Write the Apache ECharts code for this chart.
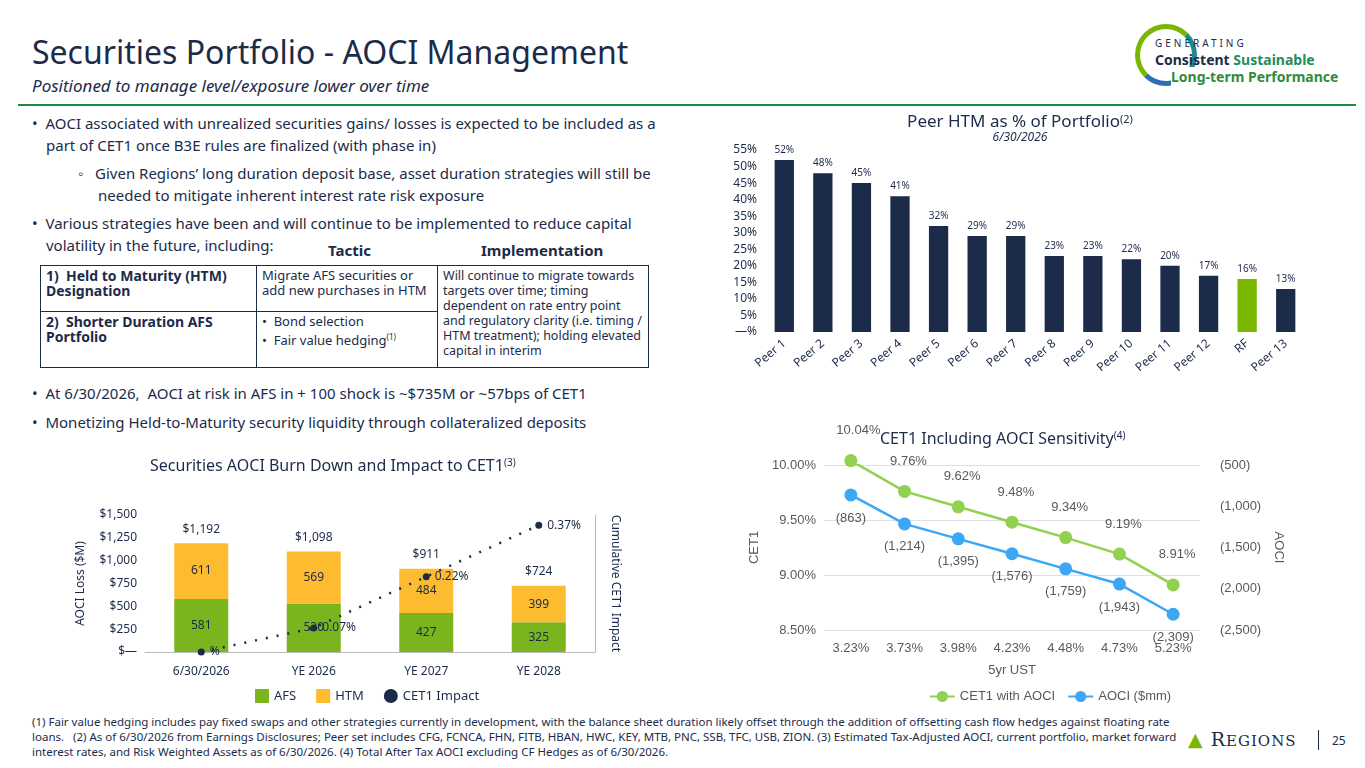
<!DOCTYPE html>
<html>
<head>
<meta charset="utf-8" />
<title>Securities Portfolio - AOCI Management</title>
<script src="https://cdn.jsdelivr.net/npm/echarts@6/dist/echarts.min.js"></script>
<style>
    body { margin: 0; width: 1365px; height: 768px; position: relative; background: #fff; font-family: "Noto Sans", sans-serif; color: #1c2b4a; overflow: hidden; }
    .abs { position: absolute; }
    #title { left: 32px; top: 30px; font-size: 32px; color: #1c2b4a; }
    #sub { left: 32px; top: 74px; font-size: 17px; font-style: italic; color: #1c2b4a; }
    #rule { left: 18px; top: 104px; width: 1338px; height: 2px; background: #1f8c3c; }
    .b { font-size: 15px; line-height: 22px; }
    table { border-collapse: collapse; font-size: 13px; line-height: 15px; }
    td { border: 1px solid #1c2b4a; padding: 2px 5px; vertical-align: top; }
    #foot { left: 32px; top: 714px; width: 1145px; font-size: 11.5px; line-height: 15px; }
</style>
</head>
<body>
<div id="title" class="abs">Securities Portfolio - AOCI Management</div>
<div id="sub" class="abs">Positioned to manage level/exposure lower over time</div>
<div class="abs" style="left:1135px;top:20px;width:220px;height:75px;">
    <div style="position:absolute;left:0;top:4px;width:62px;height:62px;border-radius:50%;border:5px solid #7ab800;border-right-color:#1f8c8c;border-bottom-color:#2f6db5;box-sizing:border-box;"></div>
    <div style="position:absolute;left:20px;top:16px;font-size:10px;letter-spacing:3px;color:#1c2b4a;">GENERATING</div>
    <div style="position:absolute;left:20px;top:30px;font-size:14px;font-weight:bold;color:#1c2b4a;">Consistent <span style="color:#1f8c5c">Sustainable</span></div>
    <div style="position:absolute;left:36px;top:47px;font-size:14px;font-weight:bold;color:#2f8c3c;background:#fff;">Long-term Performance</div>
</div>
<div id="rule" class="abs"></div>

<div class="abs b" style="left:18px;top:112px;width:645px;">
    <div style="padding-left:28px;text-indent:-14px;">•&nbsp; AOCI associated with unrealized securities gains/ losses is expected to be included as a part of CET1 once B3E rules are finalized (with phase in)</div>
    <div style="padding-left:80px;text-indent:-20px;margin-top:6px;">◦&nbsp;&nbsp; Given Regions’ long duration deposit base, asset duration strategies will still be needed to mitigate inherent interest rate risk exposure</div>
    <div style="padding-left:28px;text-indent:-14px;margin-top:6px;">•&nbsp; Various strategies have been and will continue to be implemented to reduce capital volatility in the future, including:</div>
</div>
<div class="abs" style="left:328px;top:240px;font-size:15px;font-weight:bold;">Tactic</div>
<div class="abs" style="left:481px;top:240px;font-size:15px;font-weight:bold;">Implementation</div>
<table class="abs" style="left:40px;top:265px;width:609px;">
    <tr style="height:46px;">
        <td style="width:205px;font-size:14px;font-weight:bold;">1)&nbsp; Held to Maturity (HTM) Designation</td>
        <td style="width:170px;">Migrate AFS securities or add new purchases in HTM</td>
        <td rowspan="2" style="font-size:12.5px;">Will continue to migrate towards targets over time; timing dependent on rate entry point and regulatory clarity (i.e. timing / HTM treatment); holding elevated capital in interim</td>
    </tr>
    <tr style="height:56px;">
        <td style="font-size:14px;font-weight:bold;">2)&nbsp; Shorter Duration AFS Portfolio</td>
        <td>•&nbsp; Bond selection<br>•&nbsp; Fair value hedging<sup style="font-size:8px">(1)</sup></td>
    </tr>
</table>
<div class="abs b" style="left:18px;top:382px;width:645px;">
    <div style="padding-left:28px;text-indent:-14px;">•&nbsp; At 6/30/2026,&nbsp; AOCI at risk in AFS in + 100 shock is ~$735M or ~57bps of CET1</div>
    <div style="padding-left:28px;text-indent:-14px;margin-top:7px;">•&nbsp; Monetizing Held-to-Maturity security liquidity through collateralized deposits</div>
</div>

<div id="c1" class="abs" style="left:720px;top:105px;width:600px;height:290px;"></div>
<div id="c2" class="abs" style="left:60px;top:445px;width:600px;height:265px;"></div>
<div id="c3" class="abs" style="left:740px;top:420px;width:620px;height:290px;"></div>

<div id="foot" class="abs">(1) Fair value hedging includes pay fixed swaps and other strategies currently in development, with the balance sheet duration likely offset through the addition of offsetting cash flow hedges against floating rate loans.&nbsp;&nbsp; (2) As of 6/30/2026 from Earnings Disclosures; Peer set includes CFG, FCNCA, FHN, FITB, HBAN, HWC, KEY, MTB, PNC, SSB, TFC, USB, ZION. (3) Estimated Tax-Adjusted AOCI, current portfolio, market forward interest rates, and Risk Weighted Assets as of 6/30/2026. (4) Total After Tax AOCI excluding CF Hedges as of 6/30/2026.</div>
<div class="abs" style="left:1188px;top:728px;font-family:'DejaVu Serif',serif;font-size:19px;color:#1c2b4a;letter-spacing:1px;"><span style="color:#7ab800">▲</span> R<span style="font-size:15px">EGIONS</span></div>
<div class="abs" style="left:1318px;top:730px;height:20px;border-left:1px solid #1c2b4a;"></div>
<div class="abs" style="left:1332px;top:732px;font-size:12px;">25</div>

<script>
    // 同业 HTM 占比
    var peerNames = ['Peer 1', 'Peer 2', 'Peer 3', 'Peer 4', 'Peer 5', 'Peer 6', 'Peer 7', 'Peer 8', 'Peer 9', 'Peer 10', 'Peer 11', 'Peer 12', 'RF', 'Peer 13'];
    var peerHtm = [52, 48, 45, 41, 32, 29, 29, 23, 23, 22, 20, 17, 16, 13];

    // AOCI 消化
    var burnCats = ['6/30/2026', 'YE 2026', 'YE 2027', 'YE 2028'];
    var burnAfs = [581, 530, 427, 325];
    var burnHtm = [611, 569, 484, 399];
    var burnTotals = [1192, 1098, 911, 724];
    var burnCet1 = [0, 0.07, 0.22, 0.37];

    // 敏感性
    var ustCats = ['3.23%', '3.73%', '3.98%', '4.23%', '4.48%', '4.73%', '5.23%'];
    var cet1Aoci = [10.04, 9.76, 9.62, 9.48, 9.34, 9.19, 8.91];
    var aociMm = [-863, -1214, -1395, -1576, -1759, -1943, -2309];

    var navy = '#1c2b4a', font = 'Noto Sans';

    var c1 = echarts.init(document.getElementById('c1'));
    c1.setOption({
        textStyle: { fontFamily: font },
        title: {
            text: 'Peer HTM as % of Portfolio{s|(2)}', subtext: '6/30/2026', left: 'center', top: 4, itemGap: 1,
            textStyle: { fontSize: 17, fontWeight: 'normal', color: navy, rich: { s: { fontSize: 11, verticalAlign: 'top', color: navy } } },
            subtextStyle: { fontSize: 12, fontStyle: 'italic', color: navy }
        },
        grid: { left: 45, right: 15, top: 45, bottom: 63, containLabel: false },
        xAxis: {
            type: 'category', data: peerNames,
            axisLine: { show: false }, axisTick: { show: false },
            axisLabel: { rotate: 40, color: navy, fontSize: 12, interval: 0, margin: 10 }
        },
        yAxis: {
            type: 'value', min: 0, max: 55, interval: 5,
            splitLine: { show: false },
            axisLabel: { color: navy, fontSize: 12, formatter: function (v) { return v === 0 ? '—%' : v + '%'; } }
        },
        series: [{
            type: 'bar', barWidth: '50%',
            data: peerHtm.map(function (v, i) { return { value: v, itemStyle: { color: peerNames[i] === 'RF' ? '#7ab800' : navy } }; }),
            label: { show: true, position: 'top', fontSize: 10, color: navy, formatter: '{c}%' }
        }]
    });

    var c2 = echarts.init(document.getElementById('c2'));
    c2.setOption({
        textStyle: { fontFamily: font },
        title: { text: 'Securities AOCI Burn Down and Impact to CET1{s|(3)}', left: 85, top: 8,
            textStyle: { fontSize: 16, fontWeight: 'normal', color: navy, rich: { s: { fontSize: 10, verticalAlign: 'top', color: navy } } } },
        legend: {
            bottom: 2, left: 190, itemGap: 20, itemWidth: 14, itemHeight: 14, textStyle: { color: navy, fontSize: 13 },
            data: [{ name: 'AFS', icon: 'rect' }, { name: 'HTM', icon: 'rect' }, { name: 'CET1 Impact', icon: 'circle' }]
        },
        grid: { left: 85, right: 65, top: 70, bottom: 58 },
        xAxis: {
            type: 'category', data: burnCats,
            axisLine: { lineStyle: { color: '#bbb' } }, axisTick: { show: false },
            axisLabel: { color: navy, fontSize: 12, margin: 14 }
        },
        yAxis: [{
            type: 'value', min: 0, max: 1500, interval: 250, splitLine: { show: false },
            name: 'AOCI Loss ($M)', nameLocation: 'middle', nameGap: 58, nameRotate: 90, nameTextStyle: { color: navy, fontSize: 12 },
            axisLabel: { color: navy, fontSize: 12, formatter: function (v) { return v === 0 ? '$—' : '$' + v.toLocaleString('en-US'); } }
        }, {
            type: 'value', min: 0, max: 0.4, axisLabel: { show: false }, splitLine: { show: false },
            axisLine: { show: true, lineStyle: { color: '#bbb' } },
            name: 'Cumulative CET1 Impact', nameLocation: 'middle', nameGap: 14, nameRotate: -90, nameTextStyle: { color: navy, fontSize: 12 }
        }],
        series: [{
            name: 'AFS', type: 'bar', stack: 'a', barWidth: '48%', itemStyle: { color: '#7ab51d' }, data: burnAfs,
            label: { show: true, color: navy, fontSize: 12 }
        }, {
            name: 'HTM', type: 'bar', stack: 'a', itemStyle: { color: '#fdbb30' }, data: burnHtm,
            label: { show: true, color: navy, fontSize: 12 }
        }, {
            name: 'total', type: 'bar', stack: 'a', itemStyle: { color: 'transparent' }, data: burnTotals.map(function () { return 0; }),
            label: { show: true, position: 'top', color: navy, fontSize: 12, distance: 8, formatter: function (p) { return '$' + burnTotals[p.dataIndex].toLocaleString('en-US'); } },
            tooltip: { show: false }
        }, {
            name: 'CET1 Impact', type: 'line', yAxisIndex: 1, data: burnCet1, symbol: 'circle', symbolSize: 7,
            itemStyle: { color: navy }, lineStyle: { color: navy, type: [2, 9], width: 2.5 },
            label: { show: true, position: 'right', color: navy, fontSize: 12, formatter: function (p) { return p.value === 0 ? '%' : p.value.toFixed(2) + '%'; } }
        }]
    });

    var c3 = echarts.init(document.getElementById('c3'));
    var lab = function (v) { return '(' + Math.abs(v).toLocaleString('en-US') + ')'; };
    c3.setOption({
        textStyle: { fontFamily: 'Liberation Sans' },
        title: { text: 'CET1 Including AOCI Sensitivity{s|(4)}', left: 135, top: 6,
            textStyle: { fontFamily: font, fontSize: 16, fontWeight: 'normal', color: navy, rich: { s: { fontFamily: font, fontSize: 10, verticalAlign: 'top', color: navy } } } },
        legend: { bottom: 2, left: 'center', itemGap: 12, textStyle: { color: '#595959', fontSize: 13 }, data: ['CET1 with AOCI', 'AOCI ($mm)'] },
        grid: { left: 60, right: 160, top: 45, bottom: 80 },
        xAxis: {
            type: 'category', data: ustCats, axisLine: { show: false }, axisTick: { show: false },
            axisLabel: { color: '#595959', fontSize: 13, margin: 12 },
            name: '5yr UST', nameLocation: 'middle', nameGap: 34, nameTextStyle: { color: '#595959', fontSize: 13 }
        },
        yAxis: [{
            type: 'value', min: 8.5, max: 10, interval: 0.5,
            name: 'CET1', nameLocation: 'middle', nameGap: 52, nameRotate: 90, nameTextStyle: { color: '#595959', fontSize: 13 },
            splitLine: { lineStyle: { color: '#e0e0e0' } },
            axisLabel: { color: '#595959', fontSize: 13, formatter: function (v) { return v.toFixed(2) + '%'; } }
        }, {
            type: 'value', min: -2500, max: -500, interval: 500, splitLine: { show: false },
            name: 'AOCI', nameLocation: 'middle', nameGap: 65, nameRotate: -90, nameTextStyle: { color: '#595959', fontSize: 13 },
            axisLabel: { color: '#595959', fontSize: 13, margin: 20, formatter: lab }
        }],
        series: [{
            name: 'CET1 with AOCI', type: 'line', data: cet1Aoci, clip: false, symbol: 'circle', symbolSize: 13,
            itemStyle: { color: '#92d050' }, lineStyle: { color: '#92d050', width: 2.5 },
            label: { show: true, position: [-8, -30], color: '#595959', fontSize: 13, formatter: function (p) { return p.value.toFixed(2) + '%'; } }
        }, {
            name: 'AOCI ($mm)', type: 'line', yAxisIndex: 1, data: aociMm, clip: false, symbol: 'circle', symbolSize: 13,
            itemStyle: { color: '#3ca7f5' }, lineStyle: { color: '#3ca7f5', width: 2.5 },
            label: { show: true, position: 'bottom', distance: 10, color: '#595959', fontSize: 13, formatter: function (p) { return lab(p.value); } }
        }]
    });
</script>
</body>
</html>
